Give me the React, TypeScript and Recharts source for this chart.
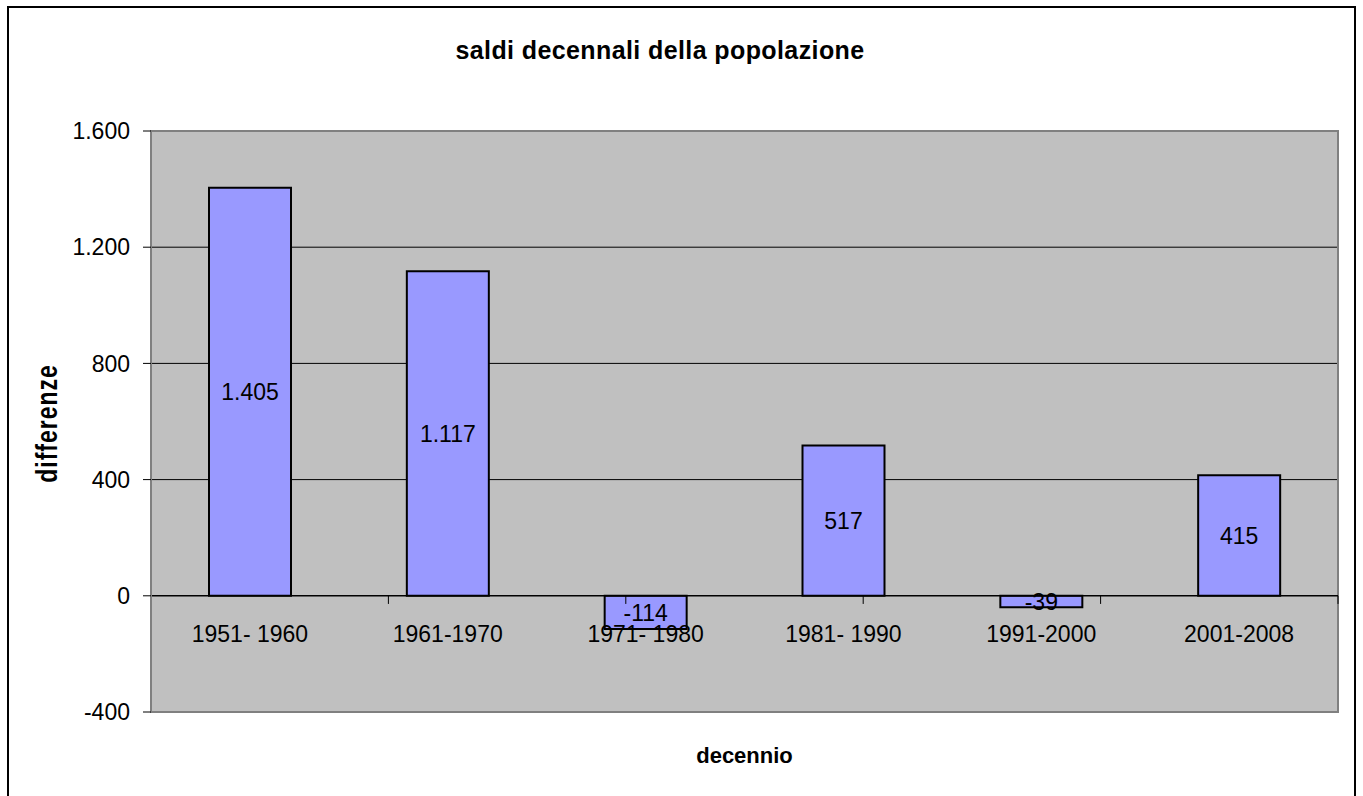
import React from 'react';
import {
  BarChart,
  Bar,
  XAxis,
  YAxis,
  CartesianGrid,
  ReferenceLine,
  ReferenceArea,
  LabelList,
} from 'recharts';

const categories = ['1951- 1960', '1961-1970', '1971- 1980', '1981- 1990', '1991-2000', '2001-2008'];
const values = [1405, 1117, -114, 517, -39, 415];
const yTicks = [-400, 0, 400, 800, 1200, 1600];
const gridValues = [400, 800, 1200];
const boundaries = [1, 2, 3, 4, 5, 6];

const FONT = '"Liberation Sans", Arial, Helvetica, sans-serif';

// Italian thousands separator: 1405 -> 1.405
const fmt = (v: number) => String(v).replace(/\B(?=(\d{3})+(?!\d))/g, '.');

const chartData = categories.map((c, i) => ({ decennio: c, value: values[i] }));

function CategoryTick({ x, y, payload }: any) {
  // labels sit just under the zero line, not at the bottom of the plot
  return (
    <text x={x} y={y - 70} textAnchor="middle" fontSize={23} fontFamily={FONT} fill="#000">
      {payload.value}
    </text>
  );
}

export default function App() {
  return (
    <div style={{ position: 'absolute', left: 0, top: 0, width: 1363, height: 796, background: '#fff', fontFamily: FONT }}>
      <div
        style={{
          position: 'absolute',
          left: 7,
          top: 6,
          width: 1349,
          height: 800,
          border: '2px solid #000',
          boxSizing: 'border-box',
        }}
      />
      <div
        style={{
          position: 'absolute',
          left: 0,
          width: 1320,
          top: 38,
          textAlign: 'center',
          fontSize: 25,
          lineHeight: '25px',
          fontWeight: 'bold',
          letterSpacing: 0.4,
          color: '#000',
        }}
      >
        saldi decennali della popolazione
      </div>
      <BarChart
        width={1363}
        height={796}
        data={chartData}
        margin={{ top: 131, right: 25, left: 7, bottom: 0 }}
        style={{ position: 'absolute', left: 0, top: 0 }}
      >
        <CartesianGrid
          horizontal
          vertical={false}
          horizontalValues={gridValues}
          stroke="#000"
          strokeWidth={1}
          fill="#C0C0C0"
          fillOpacity={1}
        />
        <ReferenceArea y1={-400} y2={1600} fill="none" stroke="#808080" strokeWidth={2} />
        <XAxis
          dataKey="decennio"
          height={84}
          axisLine={false}
          tickLine={false}
          tickSize={0}
          tickMargin={0}
          interval={0}
          tick={<CategoryTick />}
          label={{
            content: ({ viewBox }: any) => (
              <text
                x={viewBox.x + viewBox.width / 2}
                y={viewBox.y + 51}
                textAnchor="middle"
                fontSize={22}
                fontWeight="bold"
                fontFamily={FONT}
                fill="#000"
              >
                decennio
              </text>
            ),
          }}
        />
        <XAxis xAxisId="edges" type="number" domain={[0, 6]} hide />
        <YAxis
          width={144}
          domain={[-400, 1600]}
          ticks={yTicks}
          interval={0}
          tickFormatter={fmt}
          axisLine={{ stroke: '#808080', strokeWidth: 2 }}
          tickLine={{ stroke: '#000' }}
          tickSize={8}
          tickMargin={13}
          tick={{ fontSize: 23, fill: '#000', fontFamily: FONT }}
          label={{
            content: ({ viewBox }: any) => (
              <text
                transform={`translate(${viewBox.x + 40}, ${viewBox.y + viewBox.height / 2 + 2}) rotate(-90) scale(1, 1.3)`}
                textAnchor="middle"
                dominantBaseline="central"
                fontSize={23}
                fontWeight="bold"
                letterSpacing={1}
                fontFamily={FONT}
                fill="#000"
              >
                differenze
              </text>
            ),
          }}
        />
        <ReferenceLine y={0} stroke="#000" strokeWidth={1.5} />
        {boundaries.map((b) => (
          <ReferenceLine
            key={b}
            xAxisId="edges"
            segment={[
              { x: b, y: 0 },
              { x: b, y: -28 },
            ]}
            stroke="#000"
            strokeWidth={1}
          />
        ))}
        <Bar
          dataKey="value"
          fill="#9999FF"
          stroke="#000"
          strokeWidth={2}
          barSize={82}
          isAnimationActive={false}
        >
          <LabelList
            dataKey="value"
            position="center"
            formatter={(v: any) => fmt(Number(v))}
            style={{ fontSize: 23, fill: '#000', fontFamily: FONT }}
          />
        </Bar>
      </BarChart>
    </div>
  );
}
